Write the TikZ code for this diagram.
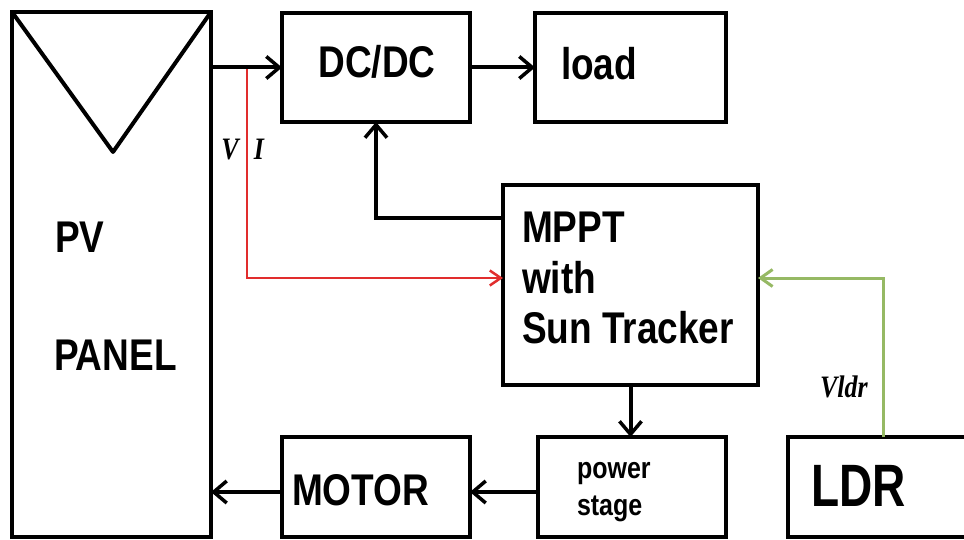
\documentclass[tikz,border=0pt]{standalone}
\usepackage{fontspec}
\setmainfont{Liberation Sans}
\newfontfamily\tnrfont{Liberation Serif}
\usepackage{graphicx}
\usetikzlibrary{arrows.meta}
\newcommand\stx[2][1.2]{\scalebox{1}[#1]{#2}}
\definecolor{redline}{RGB}{225,45,45}
\definecolor{greenline}{RGB}{150,185,100}
\begin{document}
\begin{tikzpicture}[x=1pt,y=-1pt,
  box/.style={draw,line width=4pt,rectangle,outer sep=0pt,inner sep=0pt},
  lbl/.style={inner sep=0pt,outer sep=0pt,font=\fontsize{37}{40}\selectfont\bfseries},
  small/.style={inner sep=0pt,outer sep=0pt,font=\fontsize{25}{28}\selectfont\bfseries},
  sig/.style={inner sep=0pt,outer sep=0pt,font=\fontsize{26}{28}\selectfont\tnrfont\bfseries\itshape},
  arr/.style={line width=4pt,-{Straight Barb[length=13pt,width=22pt,line width=3.5pt]}},
  redarr/.style={draw=redline,line width=2.5pt,-{Straight Barb[length=11pt,width=15pt,line width=2.5pt]}},
  greenarr/.style={draw=greenline,line width=3pt,-{Straight Barb[length=12pt,width=17pt,line width=3pt]}}]
\useasboundingbox (0,0) rectangle (964,540);
\clip (0,0) rectangle (964,540);
\fill[white] (0,0) rectangle (964,540);

% boxes
\node[box,minimum width=199pt,minimum height=525pt] (pv) at (111.5,274.5) {};
\node[box,minimum width=188pt,minimum height=109pt] (dcdc) at (376,67.5) {};
\node[box,minimum width=191pt,minimum height=109pt] (load) at (630.5,67.5) {};
\node[box,minimum width=255pt,minimum height=200pt] (mppt) at (630.5,285) {};
\node[box,minimum width=188pt,minimum height=100pt] (motor) at (376,487) {};
\node[box,minimum width=188pt,minimum height=100pt] (ps) at (632,487) {};
\node[box,minimum width=192pt,minimum height=100pt] (ldr) at (884,487) {};

% triangle of the PV panel
\coordinate (apex) at (113,152);
\draw[line width=4pt,line join=round] (pv.north west) -- (apex) -- (pv.north east);

% labels
\node[lbl,anchor=base west] (tpv) at (55,253) {\stx{PV}};
\node[lbl,anchor=base west] (tpanel) at (54,370) {\stx{PANEL}};
\node[lbl,anchor=base] (tdcdc) at (377,78) {\stx{DC/DC}};
\node[lbl,anchor=base west] (tload) at (561,80) {\stx{load}};
\node[lbl,anchor=base west] (tmppt) at (522,243) {\stx{MPPT}};
\node[lbl,anchor=base west] (twith) at (522,293) {\stx{with}};
\node[lbl,anchor=base west] (tsun) at (522,343) {\stx{Sun Tracker}};
\node[small,anchor=base west] (tpower) at (577,478) {\stx{power}};
\node[small,anchor=base west] (tstage) at (577,515) {\stx{stage}};
\node[lbl,anchor=base west] (tmotor) at (292,505) {\stx{MOTOR}};
\node[lbl,anchor=base west,font=\fontsize{46}{50}\selectfont\bfseries] (tldr) at (811,506) {\stx[1.3]{LDR}};
\node[sig,anchor=base] (tv) at (230,160) {\stx{V}};
\node[sig,anchor=base] (ti) at (259,160) {\stx{I}};
\node[sig,anchor=base west] (tvldr) at (820,397) {\stx{Vldr}};

% connectors
\coordinate (j) at (247,67.5);
\draw[redarr] (j) |- ([yshift=7pt]mppt.west);
\draw[arr] (pv.east |- dcdc.west) -- (dcdc.west);
\draw[arr] (dcdc.east) -- (load.west);
\draw[arr] ([yshift=67pt]mppt.west) -| (dcdc.south);
\draw[arr] (mppt.south) -- (mppt.south |- ps.north);
\draw[arr] ([yshift=-5pt]ps.west) -- ([yshift=-5pt]motor.east);
\draw[arr] ([yshift=-5pt]motor.west) -- ([yshift=-5pt]motor.west -| pv.east);
\draw[greenarr] ([xshift=95pt]ldr.north west) |- ([yshift=7pt]mppt.east);
\end{tikzpicture}
\end{document}
